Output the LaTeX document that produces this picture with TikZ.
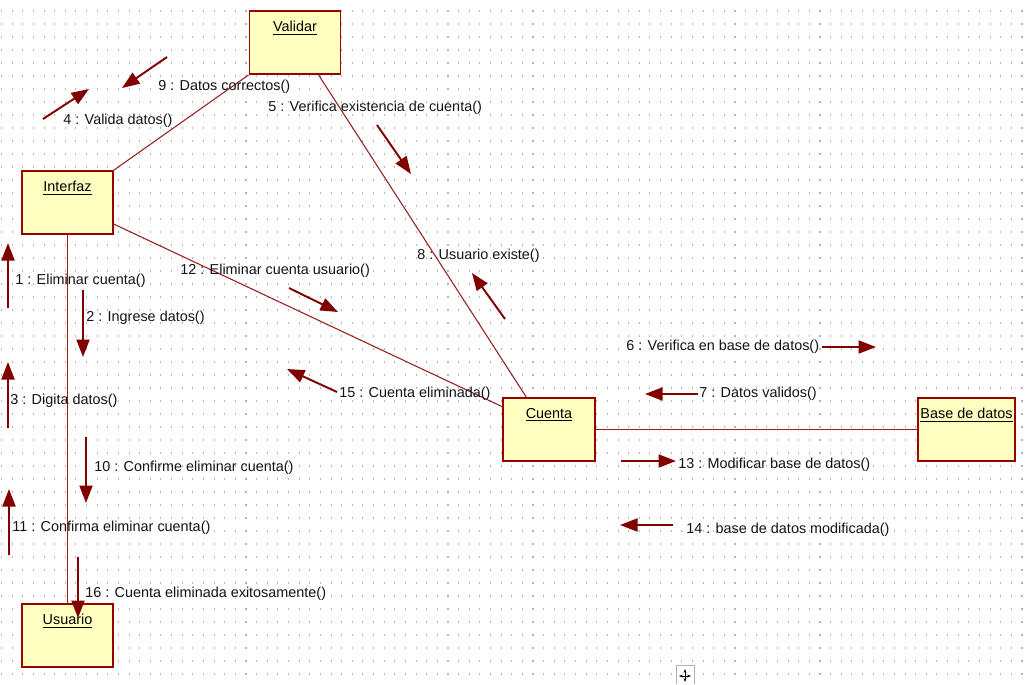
\documentclass[tikz,border=0pt]{standalone}
\usepackage{fontspec}
\setmainfont{Liberation Sans}
\usetikzlibrary{arrows.meta}

\definecolor{boxred}{RGB}{153,0,0}
\definecolor{boxfill}{RGB}{255,255,192}
\definecolor{msgred}{RGB}{128,0,0}
\definecolor{linkred}{RGB}{150,30,30}
\definecolor{griddot}{RGB}{180,180,180}

\tikzset{
  objbox/.style={draw=boxred, line width=1.1pt, fill=boxfill, minimum width=1.82cm, minimum height=1.26cm, inner sep=0pt},
  objtitle/.style={anchor=center, yshift=-0.36cm, inner sep=0pt, font=\fontsize{8.2}{10}\selectfont},
  link/.style={draw=linkred, line width=0.6pt},
  msg/.style={draw=msgred, line width=1.1pt, -{Triangle[length=0.35cm,width=0.26cm]}},
  msglabel/.style={anchor=west, inner sep=0pt, text=black!92, font=\fontsize{8.2}{10}\selectfont},
}

\begin{document}
\begin{tikzpicture}[x=0.02cm, y=-0.02cm]
    \useasboundingbox (0,0) rectangle (1027,684);
    \fill[white] (0,0) rectangle (1027,684);
    % dotted grid
    \foreach \r in {0,...,52}{
        \draw[griddot, line width=0.6pt, dash pattern=on 0.6pt off 5.45pt] (1,{11+13*\r}) -- (1027,{11+13*\r});
    }
    % objects
    \node[objbox, label={[objtitle]north:\underline{Validar}}] (validar) at (295,42.5) {};
    \node[objbox, label={[objtitle]north:\underline{Interfaz}}] (interfaz) at (67.5,202.5) {};
    \node[objbox, label={[objtitle]north:\underline{Usuario}}] (usuario) at (67.5,635.5) {};
    \node[objbox, minimum width=1.84cm, label={[objtitle]north:\underline{Cuenta}}] (cuenta) at (549,429.5) {};
    \node[objbox, minimum width=1.94cm, label={[objtitle]north:\underline{Base de datos}}] (basedatos) at (966.5,429.5) {};
    % links
    \draw[link] (validar.south west) -- (interfaz.north east);
    \draw[link] (validar.-54) -- (cuenta.125);
    \draw[link] (interfaz.-25) -- (cuenta.154);
    \draw[link] (interfaz.south) -- (usuario.north);
    \draw[link] (cuenta.east) -- (basedatos.west);
    % messages
    \foreach \tx/\ty/\hx/\hy in {8/308/8/243, 83/290/83/357, 8/428/8/362, 43/119/89/89,
        377/125/411/174, 822/347/876/347, 698/394/645/394, 505/319/472/273,
        167/57/122/88, 86/437/86/503, 9/555/9/489, 289/288/338/312,
        621/461/676/461, 673/525/620/525, 337/392/287/369, 78/557/78/618}{
        \draw[msg] (\tx,\ty) -- (\hx,\hy);
    }
    \foreach \n/\lx/\ly/\txt in {1/15/281/{1 : Eliminar cuenta()},
        2/86/318/{2 : Ingrese datos()},
        3/10/401/{3 : Digita datos()},
        4/63/121/{4 : Valida datos()},
        5/268/108/{5 : Verifica existencia de cuenta()},
        6/626/347/{6 : Verifica en base de datos()},
        7/699/394/{7 : Datos validos()},
        8/417/256/{8 : Usuario existe()},
        9/158/87/{9 : Datos correctos()},
        10/94/468/{10 : Confirme eliminar cuenta()},
        11/12/528/{11 : Confirma eliminar cuenta()},
        12/180/271/{12 : Eliminar cuenta usuario()},
        13/678/465/{13 : Modificar base de datos()},
        14/686/530/{14 : base de datos modificada()},
        15/339/394/{15 : Cuenta eliminada()},
        16/85/594/{16 : Cuenta eliminada exitosamente()}}{
        \node[msglabel] (m\n) at (\lx,\ly) {\txt};
    }
    % move handle
    \draw[gray!60, fill=white] (676,684) -- (676,665) -- (694,665) -- (694,684);
    \draw[black, line width=0.5pt, {Stealth[length=2.2pt]}-{Stealth[length=2.2pt]}] (679,676) -- (691,676);
    \draw[black, line width=0.5pt, {Stealth[length=2.2pt]}-{Stealth[length=2.2pt]}] (685,669) -- (685,682);
\end{tikzpicture}
\end{document}
